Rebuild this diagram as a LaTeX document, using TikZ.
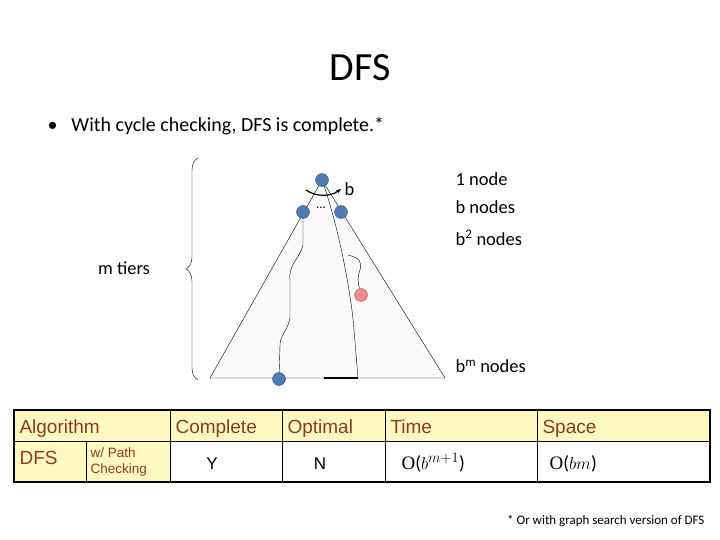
\documentclass[tikz,border=0pt]{standalone}
\usepackage{fontspec}
\setmainfont{Carlito}
\newfontfamily\arialf{Liberation Sans}
\newfontfamily\timesf{Liberation Serif}
\usetikzlibrary{decorations.pathreplacing,arrows.meta}
\definecolor{nblue}{HTML}{4F7BB5}
\definecolor{npink}{HTML}{F08C8C}
\definecolor{cyel}{HTML}{FFF8C0}
\definecolor{cred}{HTML}{8B3A2A}
\tikzset{
 tn/.style={circle,draw=nblue!70!black,fill=nblue,minimum size=13pt,inner sep=0pt},
 lab/.style={anchor=west,font=\fontsize{18.5}{20}\selectfont},
 th/.style={anchor=base west,text=cred,font=\arialf\fontsize{19}{21}\selectfont},
 td/.style={anchor=base,font=\arialf\fontsize{17}{19}\selectfont}
}
\begin{document}
\begin{tikzpicture}[x=1pt,y=-1pt]
\useasboundingbox (0,0) rectangle (720,540);
\node (title) at (360,68) {\fontsize{40}{44}\selectfont DFS};
\node[anchor=west] (bul) at (44,126) {\fontsize{20}{22}\selectfont •\hspace{14pt}With cycle checking, DFS is complete.*};
% tree
\coordinate (apex) at (322,180);
\coordinate (bl) at (210,378);
\coordinate (br) at (445,378);
\fill[black!2] (apex) -- (bl) -- (br) -- cycle;
\draw (apex) -- (bl) -- (br) -- cycle;
\draw (apex) .. controls (340,230) and (352,300) .. (354,330) -- (358,378);
\draw[line width=1.5pt] (324,378) -- (358,378);
\node[tn] (n0) at (322,180) {};
\node[tn] (n1) at (303,212) {};
\node[tn] (n2) at (341,212) {};
\node[circle,draw=npink!70!black,fill=npink,minimum size=13pt,inner sep=0pt] (np) at (361,295) {};
\node[tn] (nb) at (279,379) {};
\draw (n1) -- (303,245) .. controls (300,258) and (288,265) .. (290,280) -- (290,318) .. controls (288,330) and (280,335) .. (280,345) -- (nb);
\draw (348,255) .. controls (360,258) and (362,262) .. (360,270) .. controls (357,278) and (358,282) .. (np);
\draw[line width=1.2pt,-{Stealth[length=5pt]}] (306,190) .. controls (316,197) and (330,197) .. (341,189);
\node[lab] (lb) at (341,189) {b};
\node (dots) at (321,208) {\fontsize{13}{13}\selectfont ...};
\draw[decorate,decoration={brace,amplitude=12pt}] (198,380) -- (198,158);
\node (mt) at (124,268) {\fontsize{18.5}{20}\selectfont m tiers};
\node[lab] (l1) at (452,179) {1 node};
\node[lab] (l2) at (452,207) {b nodes};
\node[lab] (l3) at (452,238) {b\textsuperscript{2} nodes};
\node[lab] (l4) at (452,366) {b\textsuperscript{m} nodes};
% table
\fill[cyel] (14,410) rectangle (710,441);
\fill[cyel] (14,441) rectangle (170,482);
\draw[line width=0.6pt] (14,441) -- (710,441);
\foreach \x in {170,282,385,537} \draw[line width=0.6pt] (\x,410) -- (\x,482);
\draw[line width=0.6pt] (86,441) -- (86,482);
\draw[line width=2pt] (14,410) rectangle (710,482);
\node[th] (h1) at (16,433) {Algorithm};
\node[th] (h2) at (172,433) {Complete};
\node[th] (h3) at (284,433) {Optimal};
\node[th] (h4) at (387,433) {Time};
\node[th] (h5) at (539,433) {Space};
\node[th] (d1) at (16,464) {DFS};
\node[anchor=west,text=cred,align=left,font=\arialf\fontsize{13.5}{16}\selectfont] (d2) at (87,462) {w/ Path\\Checking};
\node[td] (d3) at (212,469) {Y};
\node[td] (d4) at (320,469) {N};
\node[anchor=base west,font=\fontsize{19}{21}\selectfont] (d5) at (398,469) {{\timesf O}($b^{m+1}$)};
\node[anchor=base west,font=\fontsize{19}{21}\selectfont] (d6) at (546,469) {{\timesf O}($bm$)};
\node[anchor=east] (fn) at (708,521) {\fontsize{13}{15}\selectfont * Or with graph search version of DFS};
\end{tikzpicture}
\end{document}
